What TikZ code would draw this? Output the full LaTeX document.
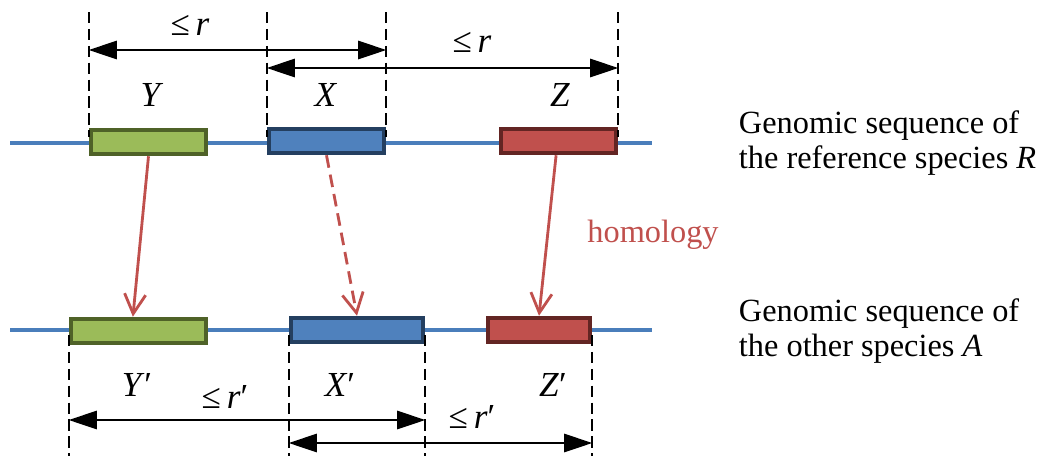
\documentclass[tikz,border=0pt]{standalone}
\usepackage{fontspec}
\setmainfont{Liberation Serif}
\usetikzlibrary{arrows.meta}

\definecolor{seqblue}{RGB}{74,126,187}
\definecolor{ygreen}{RGB}{155,187,89}
\definecolor{ygreendark}{RGB}{79,98,40}
\definecolor{xblue}{RGB}{79,129,189}
\definecolor{xbluedark}{RGB}{36,63,96}
\definecolor{zred}{RGB}{192,80,77}
\definecolor{zreddark}{RGB}{99,37,35}
\definecolor{homred}{RGB}{192,80,77}

\tikzset{
  gene/.style={draw, line width=3.2pt, minimum height=0.6cm, inner sep=0pt},
  seqline/.style={seqblue, line width=3.4pt},
  guide/.style={black, line width=1.3pt, dash pattern=on 8pt off 4pt},
  span/.style={black, line width=1.4pt, {Triangle[length=20pt,width=13pt]}-{Triangle[length=20pt,width=13pt]}},
  hom/.style={homred, line width=2pt, -{Straight Barb[length=14pt,width=15pt,line width=2pt]}},
  lab/.style={font=\fontsize{25}{28}\selectfont},
  side/.style={anchor=west, align=left, font=\fontsize{23}{25}\selectfont}
}

\begin{document}
\begin{tikzpicture}[x=0.025cm, y=-0.025cm]
  \useasboundingbox (0,0) rectangle (1039,456);

  % the two sequences
  \draw[seqline] (10,143) -- (652,143);
  \draw[seqline] (10,330) -- (652,330);

  % genes of the reference species
  \node[gene, fill=ygreen, draw=ygreendark, minimum width=2.875cm] (Y) at (148.5,142) {};
  \node[gene, fill=xblue, draw=xbluedark, minimum width=2.875cm] (X) at (326.5,141) {};
  \node[gene, fill=zred, draw=zreddark, minimum width=2.875cm] (Z) at (558.5,141) {};

  % genes of the other species
  \node[gene, fill=ygreen, draw=ygreendark, minimum width=3.375cm] (Yp) at (138.5,331) {};
  \node[gene, fill=xblue, draw=xbluedark, minimum width=3.3cm] (Xp) at (357,330) {};
  \node[gene, fill=zred, draw=zreddark, minimum width=2.55cm] (Zp) at (539,330) {};

  % guides above
  \draw[guide] (Y.west |- 0,12) -- (Y.west |- 0,137);
  \draw[guide] (X.west |- 0,12) -- (X.west |- 0,137);
  \draw[guide] (X.east |- 0,12) -- (X.east |- 0,137);
  \draw[guide] (Z.east |- 0,12) -- (Z.east |- 0,137);

  % guides below
  \draw[guide] (Yp.west |- 0,335) -- (Yp.west |- 0,456);
  \draw[guide] (Xp.west |- 0,335) -- (Xp.west |- 0,456);
  \draw[guide] (Xp.east |- 0,335) -- (Xp.east |- 0,456);
  \draw[guide] (Zp.east |- 0,335) -- (Zp.east |- 0,456);

  % distances
  \coordinate (s1a) at (Y.west |- 0,50);
  \coordinate (s1b) at (X.east |- 0,50);
  \coordinate (s2a) at (X.west |- 0,68);
  \coordinate (s2b) at (Z.east |- 0,68);
  \draw[span] (s1a) -- (s1b);
  \draw[span] (s2a) -- (s2b);
  \node[lab] (d1) at (190,25) {≤\,\textit{r}};
  \node[lab] (d2) at (472,42) {≤\,\textit{r}};

  \coordinate (s3a) at (Yp.west |- 0,420);
  \coordinate (s3b) at (Xp.east |- 0,420);
  \coordinate (s4a) at (Xp.west |- 0,443);
  \coordinate (s4b) at (Zp.east |- 0,443);
  \draw[span] (s3a) -- (s3b);
  \draw[span] (s4a) -- (s4b);
  \node[lab] (d3) at (225,397) {≤\,\textit{r}′};
  \node[lab] (d4) at (472,417) {≤\,\textit{r}′};

  % gene names
  \node[lab] (nY) at (152,95) {\textit{Y}};
  \node[lab] (nX) at (326,95) {\textit{X}};
  \node[lab] (nZ) at (560,95) {\textit{Z}};
  \node[lab] (nYp) at (137,385) {\textit{Y}′};
  \node[lab] (nXp) at (340,385) {\textit{X}′};
  \node[lab] (nZp) at (553,385) {\textit{Z}′};

  % homology
  \draw[hom] (Y.south) -- ([xshift=-0.14cm]Yp.north);
  \draw[hom, dash pattern=on 9pt off 5pt] (X.south) -- (Xp.north);
  \draw[hom] ([xshift=-0.06cm]Z.south) -- (Zp.north);
  \node[side, text=homred, anchor=center] (hom) at (653,235) {homology};

  % species
  \node[side] (R) at (734,143) {Genomic sequence of\\the reference species \textit{R}};
  \node[side] (A) at (734,331) {Genomic sequence of\\the other species \textit{A}};
\end{tikzpicture}
\end{document}
